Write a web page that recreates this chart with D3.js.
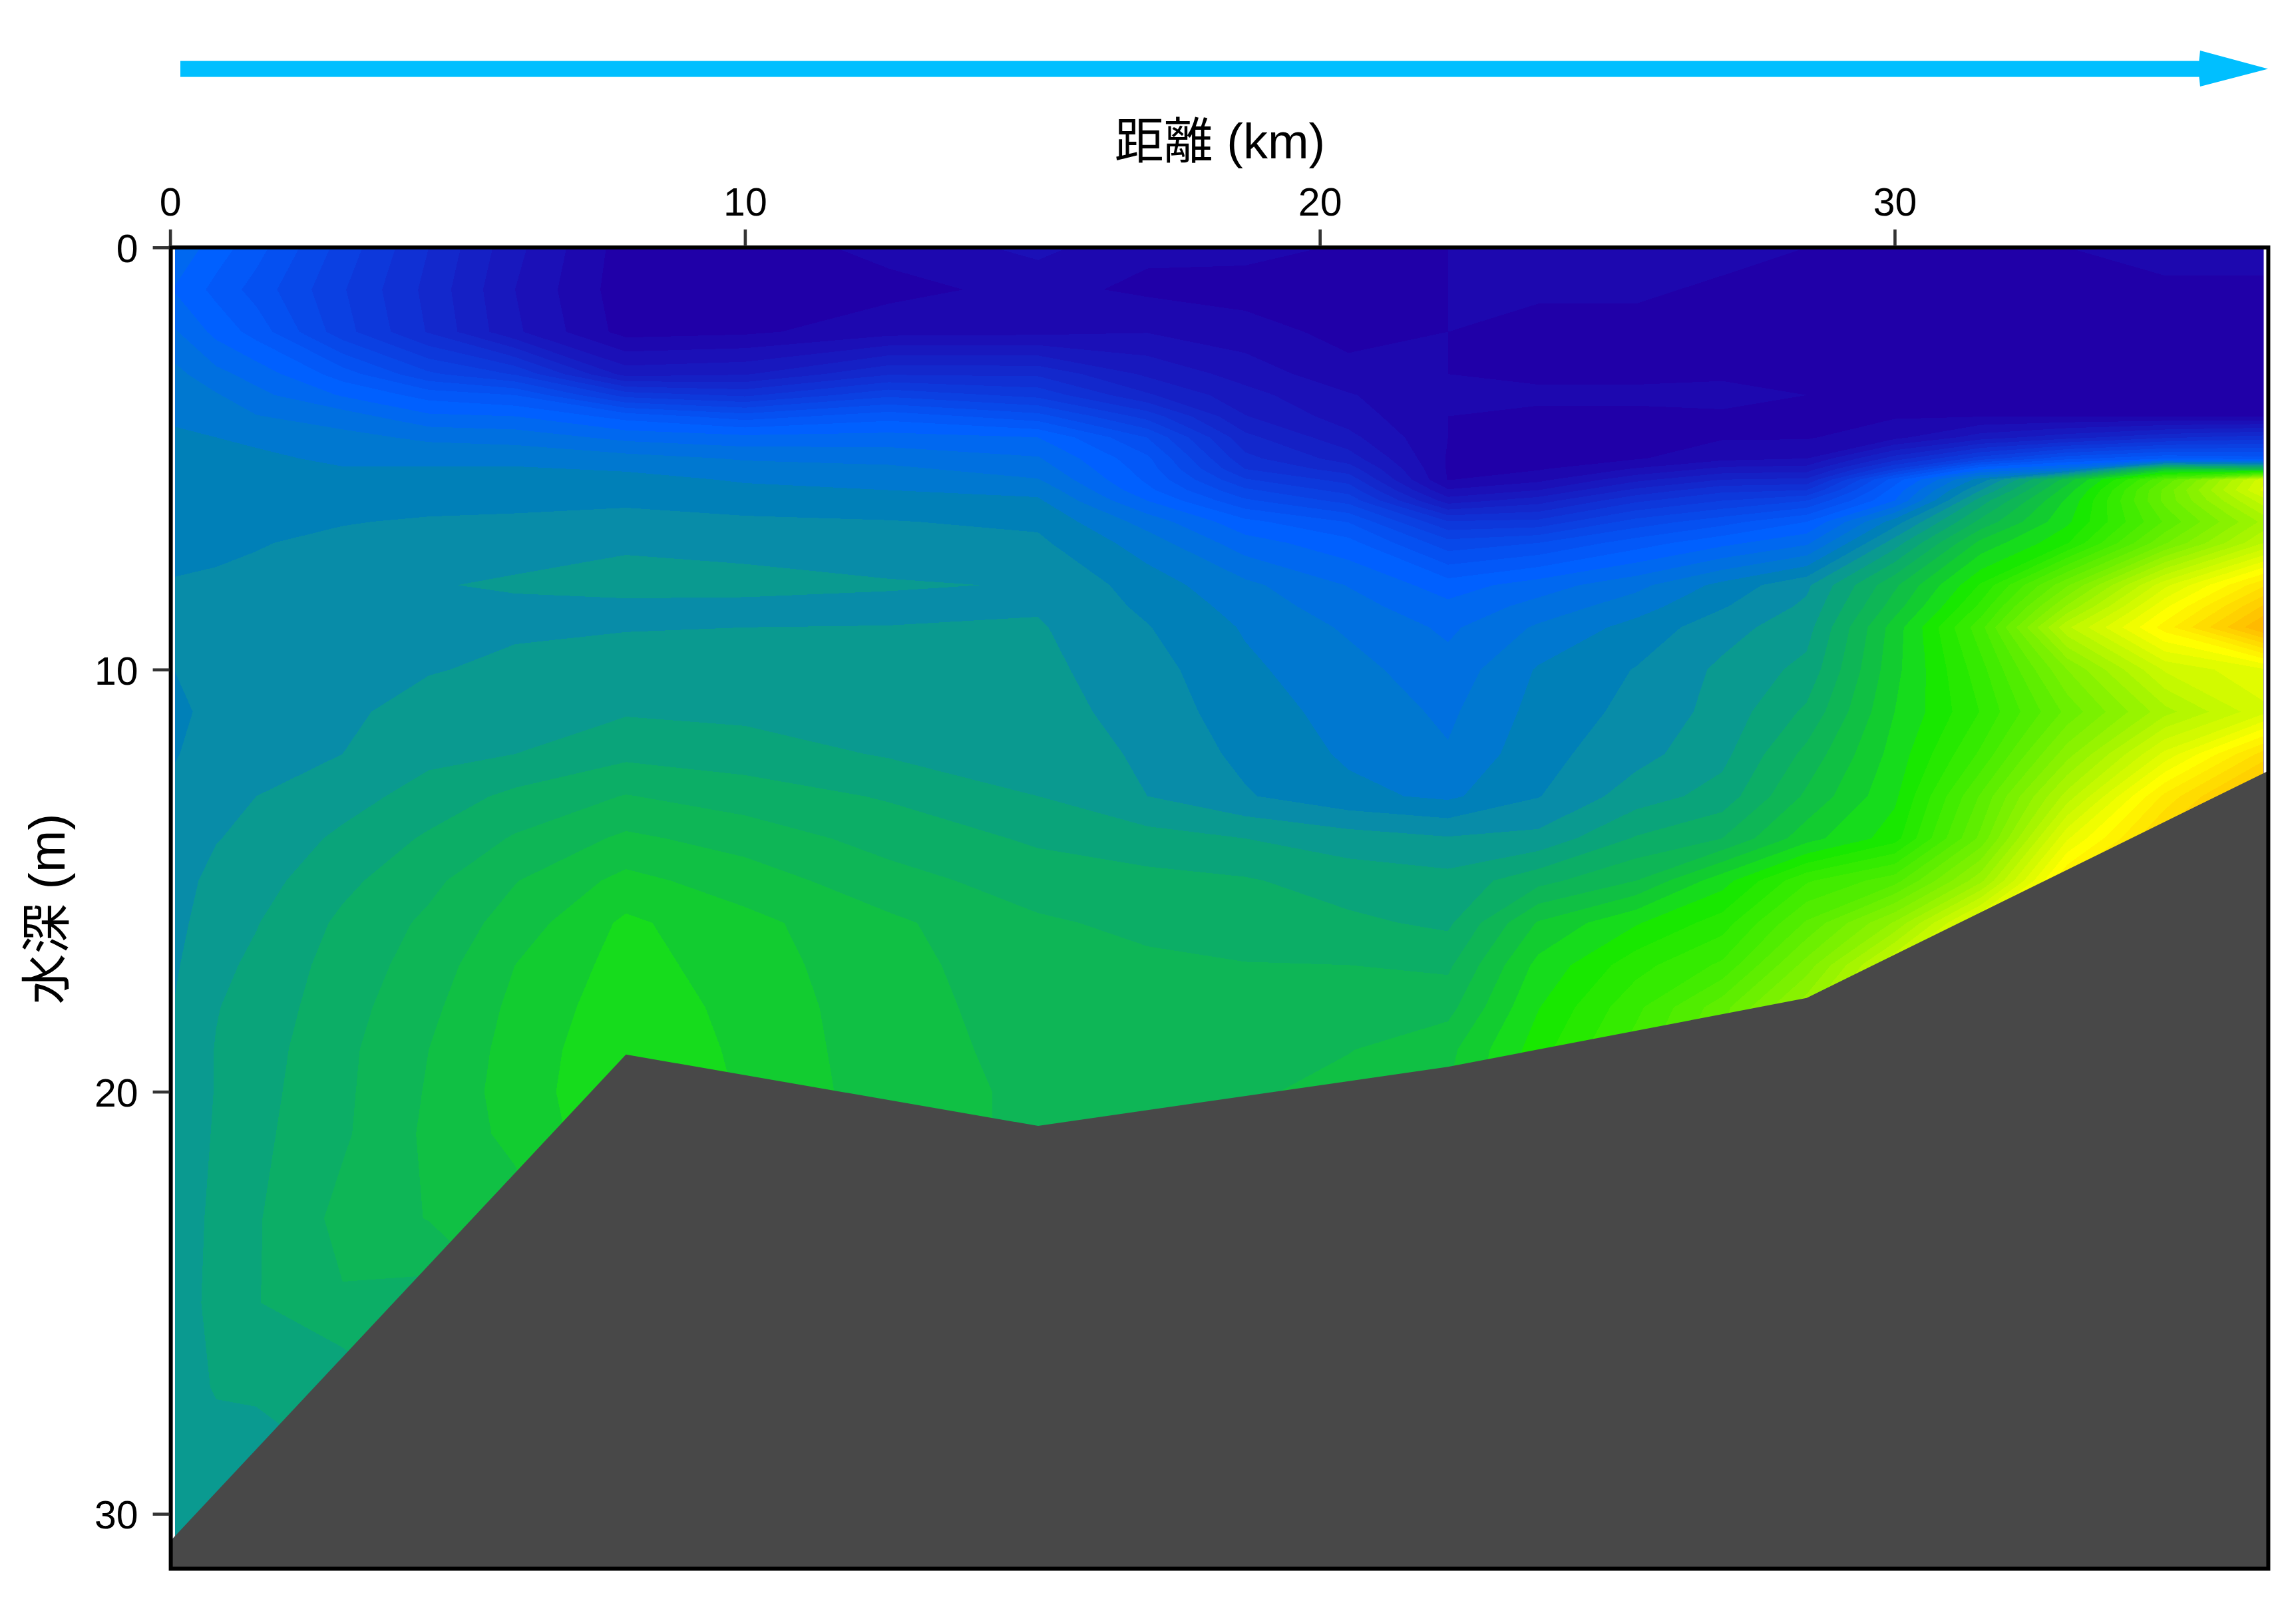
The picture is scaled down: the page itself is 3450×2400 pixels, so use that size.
<!DOCTYPE html>
<html>
<head>
<meta charset="utf-8">
<script src="https://cdn.jsdelivr.net/npm/d3@7/dist/d3.min.js"></script>
<style>
html,body{margin:0;padding:0;background:#fff}
svg{display:block}
text{font-family:"Liberation Sans","Noto Sans CJK JP",sans-serif;fill:#000}
</style>
</head>
<body>
<svg id="c" width="3450" height="2400"></svg>
<script>
// ---------- tick labels and titles ----------
const xTicks = [0, 10, 20, 30];
const yTicks = [0, 10, 20, 30];
const xTitle = "距離 (km)";
const yTitle = "水深 (m)";

// ---------- sea bed outline (km, depth in m) ----------
const bedKm    = [0, 7.93, 15.1, 22.23, 28.47, 36.5];
const bedDepth = [30.65, 19.12, 20.81, 19.41, 17.78, 12.4];

// ---------- sampling positions of the section ----------
const gridKm = [0.09, 0.8, 1.5, 3, 4.5, 6, 7.93, 10, 12.5, 15.1, 17, 18.7, 20.5, 22.23, 23.8, 25.5, 27, 28.47, 30, 31.5, 33, 34.7, 36.42];
const gridDepth = [0, 1, 2, 3, 3.5, 4, 4.5, 5, 5.25, 5.5, 5.75, 6, 6.5, 7, 8, 8.5, 9, 10, 11, 12, 13, 14, 15, 16, 17, 18, 19, 20, 21, 23, 25, 27, 29, 31];

// ---------- value profile at each km position, top to bottom ----------
const p00 = [13.8,12.9,14.1,15.3, 15.6,15.9,16.1,16.25, 16.3,16.35,16.4,16.5, 16.6,16.8,17.05,17.2,17.3, 17.02,16.7,16.95,17.2,17.4,17.6,17.75,17.9,18.05,18.15,18.25,18.35, 18.5,18.65,18.7,18.8,18.8];
const p01 = [12.5,11.7,12.7,14.3, 15.1,15.5,16,16.15, 16.2,16.3,16.35,16.45, 16.6,16.8,17.15,17.2,17.3, 17.4,17.4,17.4,17.7,17.95,18.3,18.5,18.75,18.95,19.05,19.05,19.1, 19.2,19.2,19.05,18.7,18.7];
const p02 = [11.4,10.6,11.6,13.6, 14.3,15.05,15.85,16.15, 16.25,16.3,16.4,16.55, 16.75,16.95,17.2,17.3,17.4, 17.6,17.75,17.9,18,18.3,18.6,18.95,19.2,19.4,19.55,19.65,19.75, 19.9,19.95,19.15,18.5,18.5];
const p03 = [8.6,8.1,8.4,11.5, 12.9,14.5,15.3,15.85, 16.05,16.15,16.25,16.35, 16.95,17.2,17.45,17.5,17.6, 17.7,17.85,18,18.6,19.2,19.75,20.2,20.45,20.6,20.75,20.8,20.85, 21.3,20.9,19.2,19,19];
const p04 = [6,5.7,5.9,9.2, 11.6,13.2,14.8,15.7, 16.1,16.35,16.5,16.7, 17.1,17.4,17.95,17.75,17.8, 17.95,18.3,18.75,19.4,20.15,20.75,21.2,21.45,21.75,22,22.1,22.2, 22.05,20.5,20.5,20.5,20.5];
const p05 = [3.3,3,3.2,7.9, 11,13,14.6,15.7, 16.1,16.3,16.5,16.7, 17.2,17.7,18.1,17.85,17.9, 18.15,18.5,19,20.25,21.1,21.95,22.45,23,23.25,23.4,23.5,23.3, 22.5,22,22,22,22];
const p06 = [0.5,0.4,0.6,3.6, 7.6,11.6,13.7,15.4, 15.9,16.3,16.55,16.8, 17.4,17.9,18.25,17.85,17.95, 18.4,18.9,19.75,21.05,22.2,23.3,24.2,24.4,24.6,24.8,24.85,24.85, 24.85,24.85,24.85,24.85,24.85];
const p07 = [0.5,0.3,0.8,3.9, 6.8,10.5,13.3,14.9, 15.4,15.9,16.2,16.5, 17.2,17.8,18.2,17.85,18, 18.4,18.75,19.5,20.5,21.6,22.5,23.3,23.5,23.7,23.8,23.9,23.9, 23.9,23.9,23.9,23.9,23.9];
const p08 = [1.3,0.7,1.6,5.9, 8.75,11.6,13.4,14.7, 15.2,15.65,16,16.4, 17.05,17.55,18.08,17.8,18.02, 18.3,18.6,18.9,19.9,20.6,21.4,22.2,22.3,22.35,22.4,22.45,22.45, 22.45,22.45,22.45,22.45,22.45];
const p09 = [2.3,1.3,1.7,5.8, 7.67,10.4,13,14.1, 14.55,15.05,15.7,16.15, 16.8,17.2,17.95,17.9,18.1, 18.25,18.4,18.7,19,19.85,20.5,21.15,21.45,21.6,21.7,21.8,21.8, 21.8,21.8,21.8,21.8,21.8];
const p10 = [1.2,0.8,1.95,3.8, 5.15,7.6,9.97,11.2, 11.5,11.8,12.25,13, 14.6,15.5,16.5,16.8,17.05, 17.4,17.6,17.8,18,19.4,20.3,20.75,21.2,21.4,21.5,21.6,21.6, 21.6,21.6,21.6,21.6,21.6];
const p11 = [1.3,0.6,1.4,2.6, 3.35,4.05,5.3,6.3, 7,8.1,9.2,10.2, 12.3,13.45,15.25,15.6,15.9, 16.2,16.45,16.75,17.1,19,20.1,20.4,21.05,21.2,21.4,21.8,21.8, 21.8,21.8,21.8,21.8,21.8];
const p12 = [0.9,0.6,0.7,1.3, 2.1,2.5,3.3,4.5, 5.5,6.6,7.6,8.65, 10.95,12.35,13.95,14.4,14.85, 15.35,15.65,15.85,16.25,18.5,19.55,20.2,21,21.6,21.95,22.4,22.4, 22.4,22.4,22.4,22.4,22.4];
const p13 = [1,1,1,1, 1,1,1,0.9, 0.9,0.95,2.1,3.5, 7.1,9.4,12.5,13.25,13.8, 14.37,14.8,15.1,15.8,18.1,19.35,19.8,20.8,21.65,22.7,23,23, 23,23,23,23,23];
const p14 = [1.1,1.05,0.9,0.9, 1.1,0.9,0.95,0.9, 0.9,1.7,3,4.55, 7.3,10,13.5,14.35,15.15, 16.1,16.35,16.65,16.95,18.3,20.65,23.1,24.3,24.95,25.5,25.7,25.7, 25.7,25.7,25.7,25.7,25.7];
const p15 = [1.1,1.05,0.9,0.9, 1.1,0.9,0.95,0.9, 2.1,3.7,5.25,6.8, 9.4,11.5,14.7,15.55,16.35, 17.05,17.3,17.65,18.5,20.1,22,24.9,26.4,27.4,28,28,28, 28,28,28,28,28];
const p16 = [1.1,0.95,0.9,0.95, 1.1,0.95,0.9,1.7, 3.3,5,6.7,8, 10.6,12.7,16.3,16.9,17.6, 18.2,18.35,18.7,19.4,21,24.6,26.3,27.8,29.9,30.5,30.5,30.5, 30.5,30.5,30.5,30.5,30.5];
const p17 = [1,0.9,0.9,0.9, 1,0.9,0.9,2, 3.5,5.2,7,9, 12,13.8,17.8,18.2,18.6, 19.3,20.2,21.3,22.2,23.6,27.5,29.5,31.5,33.5,34,34,34, 34,34,34,34,34];
const p18 = [0.9,0.9,0.9,0.9, 0.9,0.9,1.7,5.5, 8,11.5,12.4,13, 16.5,18.5,21.8,22.5,23.5, 23.7,24,24.4,24.8,25.5,29,33,36.5,37.5,37.5,37.5,37.5, 37.5,37.5,37.5,37.5,37.5];
const p19 = [0.95,0.9,0.85,0.95, 0.9,0.95,3.5,8.5, 12.8,16.5,18,19.5, 21.3,23.3,26,27,28.2, 27.3,26.8,27.8,29.5,30.5,33.5,38.5,42,42,42,42,42, 42,42,42,42,42];
const p20 = [1,0.95,0.9,0.85, 0.9,0.95,4.6,10.7, 14.5,22.5,23.5,24.2, 24.8,25.8,31,33,35.3, 32,30.5,32.5,35,38,41,42,42,42,42,42,42, 42,42,42,42,42];
const p21 = [1.1,0.95,0.9,0.95, 0.9,0.95,5.8,11.9, 23,29.5,30.5,30.5, 29.5,31,37,38.8,40.3, 36.5,34.3,37.5,41,43,44,44,44,44,44,44,44, 44,44,44,44,44];
const p22 = [1.1,0.95,0.9,0.95, 0.9,0.95,6.5,11.5, 22,37,37.5,36, 34,35.5,41.5,43.5,45.2, 38,37,42,45,45,45,45,45,45,45,45,45, 45,45,45,45,45];
const profiles = [p00,p01,p02,p03,p04,p05,p06,p07,p08,p09,p10,p11,p12,p13,p14,p15,p16,p17,p18,p19,p20,p21,p22];

// ---------- colour ramp ----------
const rampLevels = [0, 12, 13, 14, 15, 16, 17, 18, 19, 20, 21, 22, 23, 24, 25, 32, 39, 45];
const rampColors = ["#2000A8","#0060FF","#0068F0","#0070E0","#0078D0","#0080B8","#088CA8","#0A9A90","#0AA47A","#0CAE66","#0EB656","#10C044","#12CC30","#16DC1C","#18E800","#88F200","#FFFF00","#FFB000"];
const bandLevels = d3.range(1, 26).concat(d3.range(25.875, 46, 0.875));

const svg = d3.select("#c");
const x = d3.scaleLinear().domain([0, 36.5]).range([255.6, 3408.4]);
const y = d3.scaleLinear().domain([0, 31.3]).range([371.8, 2357.5]);
const color = d3.scaleLinear().domain(rampLevels).range(rampColors).interpolate(d3.interpolateRgb).clamp(true);

// top arrow
const arrowColor = "#00BFFF";
svg.append("rect").attr("x", 271).attr("y", 91.6).attr("width", 3040).attr("height", 24).attr("fill", arrowColor);
svg.append("path").attr("d", "M3306,76 L3408,103.6 L3306,130 Q3302,103 3306,76 Z").attr("fill", arrowColor);

// section field as filled contours
const defs = svg.append("defs");
defs.append("clipPath").attr("id", "field")
  .append("rect").attr("x", x(gridKm[0])).attr("y", y(0)).attr("width", x(gridKm[gridKm.length-1]) - x(gridKm[0])).attr("height", y(31.3) - y(0));

const n = gridKm.length, m = gridDepth.length;
const flat = new Array(n * m);
profiles.forEach((col, i) => col.forEach((v, j) => { flat[j * n + i] = v; }));

const colIndex = d3.scaleLinear().domain(gridKm.map((_, i) => i + 0.5)).range(gridKm).clamp(true);
const rowIndex = d3.scaleLinear().domain(gridDepth.map((_, j) => j + 0.5)).range(gridDepth).clamp(true);
const path = d3.geoPath(d3.geoTransform({
  point(px, py) { this.stream.point(x(colIndex(px)), y(rowIndex(py))); }
}));

const field = svg.append("g").attr("clip-path", "url(#field)");
field.append("rect").attr("x", x(0)).attr("y", y(0)).attr("width", x(36.5) - x(0)).attr("height", y(31.3) - y(0)).attr("fill", color(0));
const contours = d3.contours().size([n, m]).smooth(true).thresholds(bandLevels);
field.selectAll("path.band").data(contours(flat)).join("path")
  .attr("class", "band")
  .attr("d", path)
  .attr("fill", d => color(d.value))
  .attr("shape-rendering", "crispEdges");

// sea bed
const bed = d3.area().x((d, i) => x(bedKm[i])).y0(y(31.3)).y1((d, i) => y(bedDepth[i]));
svg.append("path").datum(bedKm).attr("d", bed).attr("fill", "#484848");

// frame
svg.append("rect").attr("x", x(0) + 1).attr("y", y(0)).attr("width", x(36.5) - x(0) - 1).attr("height", y(31.3) - y(0))
  .attr("fill", "none").attr("stroke", "#000").attr("stroke-width", 6);

// axes
const xAxis = d3.axisTop(x).tickValues(xTicks).tickSize(25).tickPadding(20.5);
const yAxis = d3.axisLeft(y).tickValues(yTicks).tickSize(25).tickPadding(22);
const gx = svg.append("g").attr("transform", `translate(0,${y(0) - 2})`).call(xAxis);
const gy = svg.append("g").attr("transform", `translate(${x(0) - 1},0)`).call(yAxis);
[gx, gy].forEach(g => {
  g.select(".domain").remove();
  g.selectAll("line").attr("stroke", "#333").attr("stroke-width", 4.6);
  g.selectAll("text").attr("font-size", 59).attr("font-family", '"Liberation Sans",sans-serif').attr("fill", "#000");
});
gy.selectAll("text").attr("dy", "0.37em");

// titles
svg.append("text").attr("x", 1833).attr("y", 238).attr("text-anchor", "middle").attr("font-size", 74).text(xTitle);
svg.append("text").attr("transform", "translate(97,1366) rotate(-90)").attr("text-anchor", "middle").attr("font-size", 76).text(yTitle);
</script>
</body>
</html>
